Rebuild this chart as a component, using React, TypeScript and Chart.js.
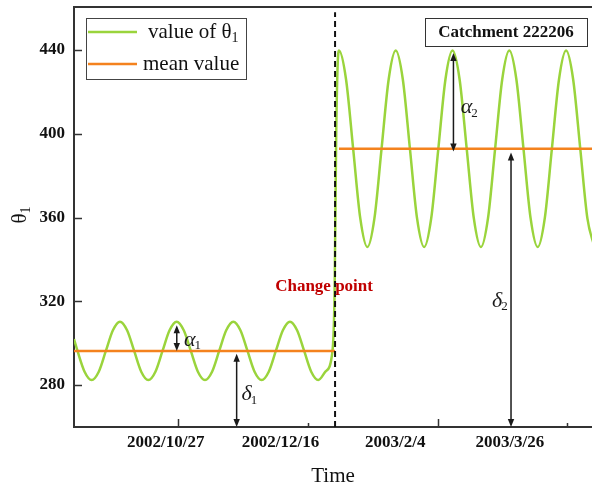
import React, { useEffect, useRef } from 'react';
import { Chart, registerables } from 'chart.js';

Chart.register(...registerables);

const SERIF = "'Liberation Serif', 'Times New Roman', serif";

// x axis in days since the left edge of the plot (2002/9/17)
const xMin = 0;
const xMax = 225.8;
const xTickDays = [40, 90, 140, 190];
const xTickLabels = ['2002/10/27', '2002/12/16', '2003/2/4', '2003/3/26'];
const xMajorMarkDays = [45.5, 158.7];
const xMinorMarkDays = [102, 214.9];

const yMin = 260;
const yMax = 460.5;
const yTickValues = [280, 320, 360, 400, 440];

const thetaDays = [
  0, 1.53, 4.61, 7.7, 10.79, 13.88, 16.96, 20.05, 23.14, 26.23, 29.31, 32.4, 35.49, 38.58, 41.66,
  44.75, 47.84, 50.93, 54.01, 57.1, 60.19, 63.28, 66.36, 69.45, 72.54, 75.63, 78.71, 81.8, 84.89,
  87.98, 91.06, 94.15, 97.24, 100.33, 103.41, 106.5, 109.59, 112.68, 113.6, 114.3, 114.9, 115.5,
  118.59, 121.69, 124.78, 127.88, 130.97, 134.06, 137.16, 140.25, 143.34, 146.44, 149.53, 152.63,
  155.72, 158.81, 161.91, 165.0, 168.09, 171.19, 174.28, 177.38, 180.47, 183.56, 186.66, 189.75,
  192.84, 195.94, 199.03, 202.13, 205.22, 208.31, 211.41, 214.5, 217.59, 220.69, 223.78, 226.88,
];
const thetaValues = [
  302.0, 296.3, 286.4, 282.4, 286.4, 296.3, 306.2, 310.3, 306.2, 296.3, 286.4, 282.4, 286.4, 296.3, 306.2,
  310.3, 306.2, 296.3, 286.4, 282.4, 286.4, 296.3, 306.2, 310.3, 306.2, 296.3, 286.4, 282.4, 286.4,
  296.3, 306.2, 310.3, 306.2, 296.3, 286.4, 282.4, 286.4, 296.3, 325.0, 400.0, 432.0, 439.7,
  425.9, 392.8, 359.7, 345.9, 359.7, 392.8, 425.9, 439.7, 425.9, 392.8, 359.7, 345.9,
  359.7, 392.8, 425.9, 439.7, 425.9, 392.8, 359.7, 345.9, 359.7, 392.8, 425.9, 439.7,
  425.9, 392.8, 359.7, 345.9, 359.7, 392.8, 425.9, 439.7, 425.9, 392.8, 359.7, 345.9,
];

const meanDays1 = [0, 113.8];
const meanValues1 = [296.3, 296.3];
const meanDays2 = [115.5, 225.8];
const meanValues2 = [392.8, 392.8];

const changeDays = [113.8, 113.8];
const changeValues = [260, 458];

const arrowDays = [44.8, 70.9, 165.4, 190.5];
const arrowFrom = [296.3, 295.0, 391.5, 391.0];
const arrowTo = [308.6, 260.0, 438.5, 260.0];
const arrowSymbols = ['α', 'δ', 'α', 'δ'];
const arrowSubs = ['1', '1', '2', '2'];

const GREEN = '#9AD43C';
const ORANGE = '#F4821E';

const toXY = (xs: number[], ys: number[]) => xs.map((x, i) => ({ x, y: ys[i] }));

const overlayPlugin = {
  id: 'overlay',
  afterDraw(chart: any) {
    const ctx = chart.ctx as CanvasRenderingContext2D;
    const { left, right, top, bottom } = chart.chartArea;
    const xs = chart.scales.x;
    const ys = chart.scales.y;
    const line = (x1: number, y1: number, x2: number, y2: number) => {
      ctx.beginPath();
      ctx.moveTo(x1, y1);
      ctx.lineTo(x2, y2);
      ctx.stroke();
    };
    ctx.save();

    // top frame line
    ctx.strokeStyle = '#333';
    ctx.lineWidth = 2;
    line(left - 1, top, right, top);

    // inward tick marks
    ctx.lineWidth = 1.5;
    yTickValues.forEach((v) => {
      const py = Math.round(ys.getPixelForValue(v)) + 0.5;
      line(left, py, left + 8, py);
    });
    xMajorMarkDays.forEach((d) => {
      const px = Math.round(xs.getPixelForValue(d)) + 0.5;
      line(px, bottom, px, bottom - 8);
    });
    xMinorMarkDays.forEach((d) => {
      const px = Math.round(xs.getPixelForValue(d)) + 0.5;
      line(px, bottom, px, bottom - 4);
    });

    // arrows with greek labels
    const labelOffsets = [
      [13, 2],
      [10, 4],
      [13, 5],
      [-14, 11],
    ];
    ctx.strokeStyle = '#1a1a1a';
    ctx.fillStyle = '#1a1a1a';
    const head = (x: number, tipY: number, dir: number) => {
      ctx.beginPath();
      ctx.moveTo(x, tipY);
      ctx.lineTo(x - 3.2, tipY + dir * 8);
      ctx.lineTo(x + 3.2, tipY + dir * 8);
      ctx.closePath();
      ctx.fill();
    };
    arrowDays.forEach((d, i) => {
      const px = xs.getPixelForValue(d);
      const y1 = ys.getPixelForValue(arrowFrom[i]);
      const y2 = ys.getPixelForValue(arrowTo[i]);
      ctx.lineWidth = 1.5;
      const dir = y2 > y1 ? 1 : -1;
      line(px, y1 + dir * 4, px, y2 - dir * 4);
      head(px, y1, dir);
      head(px, y2, -dir);
      const cx = px + labelOffsets[i][0];
      const cy = (y1 + y2) / 2 + labelOffsets[i][1];
      ctx.font = `italic 22px ${SERIF}`;
      ctx.textAlign = 'center';
      ctx.textBaseline = 'middle';
      ctx.fillText(arrowSymbols[i], cx, cy);
      const w = ctx.measureText(arrowSymbols[i]).width;
      ctx.font = `13px ${SERIF}`;
      ctx.textAlign = 'left';
      ctx.fillText(arrowSubs[i], cx + w / 2 - 1, cy + 6);
    });

    // change point text
    ctx.font = `bold 17px ${SERIF}`;
    ctx.fillStyle = '#C00000';
    ctx.textAlign = 'center';
    ctx.textBaseline = 'middle';
    ctx.fillText('Change point', xs.getPixelForValue(109.0), ys.getPixelForValue(327.0));

    // catchment box
    const bx = xs.getPixelForValue(188.3);
    const by = ys.getPixelForValue(448.6);
    ctx.fillStyle = '#fff';
    ctx.fillRect(bx - 81, by - 14, 162, 28);
    ctx.strokeStyle = '#333';
    ctx.lineWidth = 1;
    ctx.strokeRect(Math.round(bx - 81) + 0.5, Math.round(by - 14) + 0.5, 162, 28);
    ctx.fillStyle = '#111';
    ctx.font = `bold 17px ${SERIF}`;
    ctx.fillText('Catchment 222206', bx, by + 1);

    // legend
    const lx = left + 12;
    const ly = top + 11;
    ctx.fillStyle = '#fff';
    ctx.fillRect(lx, ly, 160, 61);
    ctx.strokeStyle = '#444';
    ctx.lineWidth = 1;
    ctx.strokeRect(Math.round(lx) + 0.5, Math.round(ly) + 0.5, 160, 61);
    const ds = chart.data.datasets;
    const green = ds.find((d: any) => d.label === 'value of θ1');
    const orange = ds.find((d: any) => d.label === 'mean value');
    ctx.lineWidth = 2.5;
    ctx.strokeStyle = green.borderColor;
    line(lx + 2, ly + 14, lx + 51, ly + 14);
    ctx.strokeStyle = orange.borderColor;
    line(lx + 2, ly + 46, lx + 51, ly + 46);
    ctx.fillStyle = '#111';
    ctx.textAlign = 'left';
    ctx.textBaseline = 'middle';
    ctx.font = `21px ${SERIF}`;
    ctx.fillText('value of θ', lx + 62, ly + 14);
    const tw = ctx.measureText('value of θ').width;
    ctx.font = `14px ${SERIF}`;
    ctx.fillText('1', lx + 62 + tw, ly + 20);
    ctx.font = `21px ${SERIF}`;
    ctx.fillText('mean value', lx + 57, ly + 46);

    // y axis title
    ctx.save();
    ctx.translate(20, (top + bottom) / 2 - 2);
    ctx.rotate(-Math.PI / 2);
    ctx.font = `21px ${SERIF}`;
    ctx.textAlign = 'left';
    ctx.textBaseline = 'middle';
    const thw = ctx.measureText('θ').width;
    ctx.fillText('θ', -(thw + 7) / 2, 0);
    ctx.font = `14px ${SERIF}`;
    ctx.fillText('1', -(thw + 7) / 2 + thw, 6);
    ctx.restore();

    ctx.restore();
  },
};

export default function App() {
  const ref = useRef<HTMLCanvasElement | null>(null);
  useEffect(() => {
    if (!ref.current) return;
    const chart = new Chart(ref.current, {
      type: 'line',
      data: {
        datasets: [
          {
            label: 'Change point',
            data: toXY(changeDays, changeValues),
            borderColor: '#111',
            borderWidth: 2,
            borderDash: [6, 4],
            pointRadius: 0,
            fill: false,
          },
          {
            label: 'mean value',
            data: toXY(meanDays1, meanValues1),
            borderColor: ORANGE,
            borderWidth: 2.5,
            pointRadius: 0,
            fill: false,
          },
          {
            label: 'mean value',
            data: toXY(meanDays2, meanValues2),
            borderColor: ORANGE,
            borderWidth: 2.5,
            pointRadius: 0,
            fill: false,
          },
          {
            label: 'value of θ1',
            data: toXY(thetaDays, thetaValues),
            borderColor: GREEN,
            borderWidth: 2.5,
            pointRadius: 0,
            fill: false,
            cubicInterpolationMode: 'monotone',
          },
        ],
      },
      options: {
        animation: false,
        responsive: false,
        parsing: true,
        layout: { padding: { top: 7, right: 0, left: 0, bottom: 0 } },
        plugins: { legend: { display: false }, tooltip: { enabled: false } },
        scales: {
          x: {
            type: 'linear',
            min: xMin,
            max: xMax,
            afterBuildTicks: (s: any) => {
              s.ticks = xTickDays.map((v) => ({ value: v }));
            },
            afterFit: (s: any) => {
              s.height = 66;
              s.paddingLeft = 0;
              s.paddingRight = 0;
            },
            ticks: {
              callback: (v: any) => xTickLabels[xTickDays.indexOf(Number(v))] ?? '',
              font: { family: SERIF, size: 17, weight: 'bold' },
              color: '#111',
              padding: 5,
              maxRotation: 0,
              autoSkip: false,
            },
            grid: { drawOnChartArea: false, drawTicks: false },
            border: { display: true, color: '#333', width: 2 },
            title: {
              display: true,
              text: 'Time',
              font: { family: SERIF, size: 21 },
              color: '#111',
              padding: { top: 0, bottom: 4 },
            },
          },
          y: {
            type: 'linear',
            min: yMin,
            max: yMax,
            afterBuildTicks: (s: any) => {
              s.ticks = yTickValues.map((v) => ({ value: v }));
            },
            afterFit: (s: any) => {
              s.width = 74;
              s.paddingTop = 0;
              s.paddingBottom = 0;
            },
            ticks: {
              font: { family: SERIF, size: 17, weight: 'bold' },
              color: '#111',
              padding: 9,
            },
            grid: { drawOnChartArea: false, drawTicks: false },
            border: { display: true, color: '#333', width: 2 },
          },
        },
      } as any,
      plugins: [overlayPlugin],
    });
    return () => chart.destroy();
  }, []);
  return (
    <div style={{ position: 'absolute', left: 0, top: 0, width: 592, height: 493, background: '#fff' }}>
      <canvas ref={ref} width={592} height={493} />
    </div>
  );
}
